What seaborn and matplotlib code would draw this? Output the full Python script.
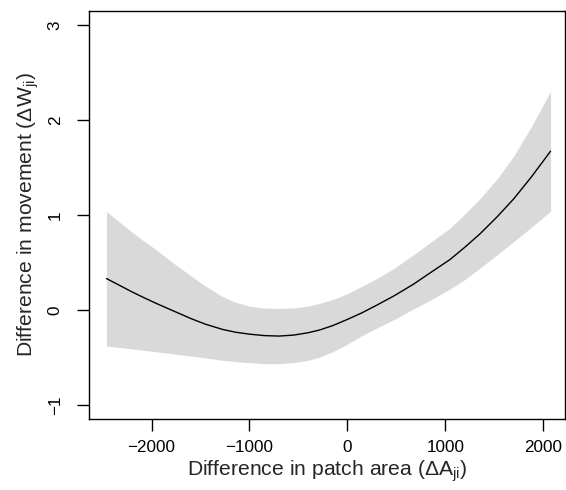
import numpy as np
import pandas as pd
import seaborn as sns
import matplotlib
matplotlib.use("Agg")
import matplotlib.pyplot as plt

# Veriler
patch_area = [-2460, -2330, -2200, -2080, -1955, -1800, -1600, -1450, -1275, -1140,
              -1000, -850, -700, -550, -400, -280, -150, 0, 150, 300,
              480, 674, 860, 1048, 1200, 1354, 1530, 1700, 1880, 2075]
movement = [0.33, 0.26, 0.19, 0.13, 0.07, 0.00, -0.09, -0.15, -0.205, -0.235,
            -0.255, -0.27, -0.275, -0.265, -0.24, -0.21, -0.165, -0.10, -0.03, 0.05,
            0.15, 0.27, 0.40, 0.53, 0.66, 0.80, 0.98, 1.17, 1.40, 1.67]
upper = [1.035, 0.925, 0.82, 0.725, 0.635, 0.51, 0.36, 0.25, 0.14, 0.08,
         0.04, 0.02, 0.015, 0.02, 0.04, 0.07, 0.11, 0.17, 0.25, 0.33,
         0.44, 0.58, 0.72, 0.86, 1.01, 1.17, 1.38, 1.62, 1.93, 2.30]
lower = [-0.38, -0.395, -0.41, -0.425, -0.44, -0.46, -0.485, -0.505, -0.53, -0.545,
         -0.555, -0.565, -0.565, -0.555, -0.53, -0.495, -0.44, -0.36, -0.27, -0.19,
         -0.10, 0.01, 0.11, 0.22, 0.32, 0.44, 0.58, 0.72, 0.87, 1.04]

x_ticks = [-2000, -1000, 0, 1000, 2000]
y_ticks = [-1, 0, 1, 2, 3]

df = pd.DataFrame({"area": patch_area, "move": movement})

sns.set_style("ticks")
plt.rcParams["font.family"] = ["Liberation Sans", "DejaVu Sans"]
plt.rcParams["mathtext.fontset"] = "custom"
plt.rcParams["mathtext.rm"] = "Liberation Sans"

fig = plt.figure(figsize=(5.66, 4.9), dpi=100)
ax = fig.add_axes([0.157, 0.145, 0.841, 0.833])

# Güven aralığı bandı
ax.fill_between(patch_area, lower, upper, color="#d9d9d9", linewidth=0)
sns.lineplot(data=df, x="area", y="move", color="black", linewidth=1.0, ax=ax)

ax.set_xlim(-2640, 2221)
ax.set_ylim(-1.147, 3.147)
ax.set_xticks(x_ticks)
ax.set_yticks(y_ticks)
ax.set_xticklabels(["\u22122000", "\u22121000", "0", "1000", "2000"])
ax.set_yticklabels(["\u22121", "0", "1", "2", "3"], rotation=90, va="center")

for s in ax.spines.values():
    s.set_visible(True)
    s.set_linewidth(1.0)
    s.set_color("black")
ax.tick_params(direction="out", length=8.8, width=1, labelsize=12.3, colors="black")
ax.tick_params(axis="x", pad=6)
ax.tick_params(axis="y", pad=10)

ax.set_xlabel(r"Difference in patch area ($\mathregular{\Delta A_{ji}}$)", fontsize=15.2, labelpad=3)
ax.set_ylabel(r"Difference in movement ($\mathregular{\Delta W_{ji}}$)", fontsize=15.2, labelpad=5)

plt.savefig("out.png", dpi=100)
